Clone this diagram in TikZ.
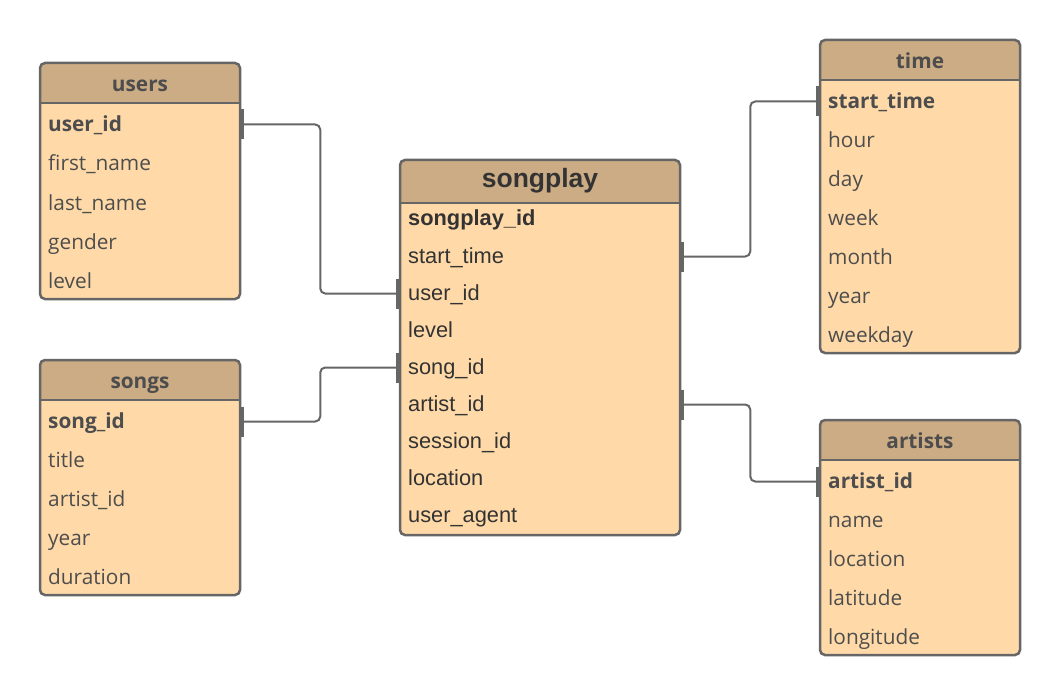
\documentclass[tikz,border=0pt]{standalone}
\usepackage{fontspec}
\setmainfont{Liberation Sans}
\newfontfamily\osans{Open Sans}
\definecolor{headfill}{RGB}{204,172,132}
\definecolor{bodyfill}{RGB}{255,218,168}
\definecolor{bordercol}{RGB}{102,102,102}
\definecolor{otext}{RGB}{77,77,77}
\definecolor{atext}{RGB}{51,51,51}
\tikzset{
  tbody/.style={fill=bodyfill, rounded corners=5pt, draw=none, inner sep=0pt, outer sep=0pt},
  tborder/.style={draw=bordercol, line width=2.5pt, rounded corners=5pt},
  hline/.style={draw=bordercol, line width=2.5pt},
  orow/.style={anchor=west, inner sep=0pt, text height=16pt, text depth=2pt, yshift=-1.5pt, font=\osans\fontsize{20.8}{24}\selectfont, text=otext},
  arow/.style={anchor=west, inner sep=0pt, text height=16pt, text depth=2pt, yshift=-1.5pt, font=\fontsize{21.8}{25}\selectfont, text=atext},
  otitle/.style={inner sep=0pt, text height=16pt, text depth=2pt, font=\osans\bfseries\fontsize{20.8}{24}\selectfont, text=otext},
  atitle/.style={inner sep=0pt, text height=20pt, text depth=3pt, font=\bfseries\fontsize{26.5}{30}\selectfont, text=atext},
  conn/.style={draw=bordercol, line width=2pt, rounded corners=5pt},
  endbar/.style={draw=bordercol, line width=2.5pt}
}
\newcommand\mktable[6]{%
  \node[tbody, anchor=north west, minimum width=#4pt, minimum height=#5pt] (#1) at (#2,#3) {};
  \fill[headfill, rounded corners=5pt] (#1.north west) rectangle ([yshift=-#6pt]#1.north east);
  \fill[headfill] ([yshift=-10pt]#1.north west) rectangle ([yshift=-#6pt]#1.north east);
  \draw[tborder] (#1.north west) rectangle (#1.south east);
  \draw[hline] ([yshift=-#6pt]#1.north west) -- ([yshift=-#6pt]#1.north east);
}
\begin{document}
\begin{tikzpicture}[x=1pt,y=-1pt]
\useasboundingbox (0,0) rectangle (1060,695);
% users
\mktable{users}{40}{63}{200}{236}{40}
\node[otitle] at ([yshift=-21.5pt]users.north) {users};
\node[orow] (u1) at (48,123) {\bfseries user\_id};
\node[orow] (u2) at (48,162) {first\_name};
\node[orow] (u3) at (48,202) {last\_name};
\node[orow] (u4) at (48,241) {gender};
\node[orow] (u5) at (48,280) {level};
% songs
\mktable{songs}{40}{360}{200}{235}{40}
\node[otitle] at ([yshift=-21.5pt]songs.north) {songs};
\node[orow] (s1) at (48,420) {\bfseries song\_id};
\node[orow] (s2) at (48,459) {title};
\node[orow] (s3) at (48,498) {artist\_id};
\node[orow] (s4) at (48,537) {year};
\node[orow] (s5) at (48,576) {duration};
% songplay
\mktable{songplay}{400}{160}{280}{375}{43}
\node[atitle] at ([yshift=-19pt]songplay.north) {songplay};
\node[arow] (p1) at (408,217) {\bfseries songplay\_id};
\node[arow] (p2) at (408,255) {start\_time};
\node[arow] (p3) at (408,292) {user\_id};
\node[arow] (p4) at (408,329) {level};
\node[arow] (p5) at (408,366) {song\_id};
\node[arow] (p6) at (408,403) {artist\_id};
\node[arow] (p7) at (408,440) {session\_id};
\node[arow] (p8) at (408,477) {location};
\node[arow] (p9) at (408,514) {user\_agent};
% time
\mktable{time}{820}{40}{200}{313}{40}
\node[otitle] at ([yshift=-21.5pt]time.north) {time};
\node[orow] (t1) at (828,100) {\bfseries start\_time};
\node[orow] (t2) at (828,139) {hour};
\node[orow] (t3) at (828,178) {day};
\node[orow] (t4) at (828,217) {week};
\node[orow] (t5) at (828,256) {month};
\node[orow] (t6) at (828,295) {year};
\node[orow] (t7) at (828,334) {weekday};
% artists
\mktable{artists}{820}{420}{200}{235}{40}
\node[otitle] at ([yshift=-21.5pt]artists.north) {artists};
\node[orow] (a1) at (828,480) {\bfseries artist\_id};
\node[orow] (a2) at (828,519) {name};
\node[orow] (a3) at (828,558) {location};
\node[orow] (a4) at (828,597) {latitude};
\node[orow] (a5) at (828,636) {longitude};
% connectors
\draw[conn] ([xshift=1.25pt]users.east |- u1) -- ++(79,0) |- ([xshift=-1.25pt]songplay.west |- p3.center);
\draw[conn] ([xshift=1.25pt]songs.east |- s1) -- ++(79,0) |- ([xshift=-1.25pt]songplay.west |- p5.center);
\draw[conn] ([xshift=1.25pt]songplay.east |- p2) -- ++(69,0) |- ([xshift=-1.25pt]time.west |- t1.center);
\draw[conn] ([xshift=1.25pt]songplay.east |- p6) -- ++(69,0) |- ([xshift=-1.25pt]artists.west |- a1.center);
% end bars
\draw[endbar] ([xshift=2.5pt]users.east |- u1) +(0,-15) -- +(0,15);
\draw[endbar] ([xshift=-2.5pt]songplay.west |- p3) +(0,-15) -- +(0,15);
\draw[endbar] ([xshift=2.5pt]songs.east |- s1) +(0,-15) -- +(0,15);
\draw[endbar] ([xshift=-2.5pt]songplay.west |- p5) +(0,-15) -- +(0,15);
\draw[endbar] ([xshift=2.5pt]songplay.east |- p2) +(0,-15) -- +(0,15);
\draw[endbar] ([xshift=-2.5pt]time.west |- t1) +(0,-15) -- +(0,15);
\draw[endbar] ([xshift=2.5pt]songplay.east |- p6) +(0,-15) -- +(0,15);
\draw[endbar] ([xshift=-2.5pt]artists.west |- a1) +(0,-15) -- +(0,15);
\end{tikzpicture}
\end{document}
